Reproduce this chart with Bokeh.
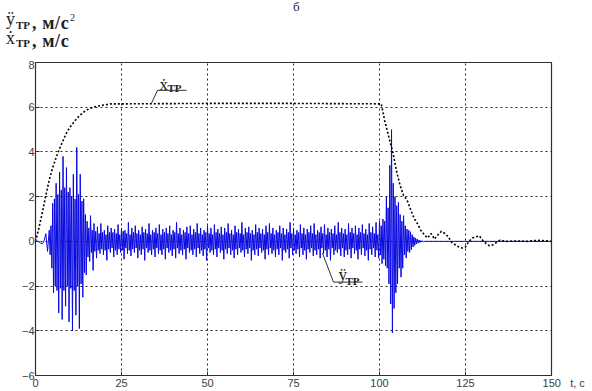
import numpy as np
from bokeh.plotting import figure
from bokeh.models import (ColumnDataSource, FixedTicker, Label, Arrow, Range1d, Div)
from bokeh.layouts import column
from bokeh.embed import file_html
from bokeh.resources import INLINE

# ---------------- data ----------------
x_ticks = [0, 25, 50, 75, 100, 125, 150]
y_ticks = [-6, -4, -2, 0, 2, 4, 6, 8]
x_title = "t, с"

# velocity x_TP (black dotted)
vel_t = [0, 1, 2, 3, 4, 5, 6, 7, 8, 9, 10, 11, 12, 13, 14, 15, 16, 18, 20, 22, 25, 50, 75,
         100.5, 101, 101.5, 102, 102.5, 103, 104, 105, 106, 107, 108, 109, 110, 111, 112,
         113, 114, 115, 116, 117, 118, 119, 120, 121, 122, 123, 124, 125, 126, 127, 128,
         129, 130, 131, 132, 133, 134, 135, 137, 140, 143, 146, 150]
vel_v = [0.0, 0.6, 1.3, 2.05, 2.75, 3.3, 3.75, 4.15, 4.5, 4.85, 5.1, 5.3, 5.5, 5.65, 5.78,
         5.88, 5.96, 6.05, 6.1, 6.15, 6.15, 6.17, 6.17,
         6.15, 5.8, 5.4, 5.1, 4.8, 4.5, 3.9, 3.1, 2.5, 2.05, 1.85, 1.45, 1.05, 0.8, 0.5,
         0.3, 0.15, 0.35, 0.1, 0.3, 0.45, 0.35, 0.2, -0.05, -0.15, -0.25, -0.3, -0.25, 0.0,
         0.15, 0.2, 0.25, 0.05, -0.1, -0.2, -0.15, -0.05, 0.05, 0.0, 0.02, 0.0, 0.05, 0.0]

# acceleration y_TP (blue) in segments (start, step, values)
acc_seg_a = [0.0, 0.01, -0.02, -0.08, -0.1, 0.02, 0.35, -0.45]          # t 0 .. 3.5, step 0.5
acc_seg_b = [                                                              # t 4 .. 17.75, step 0.25
    0.5, -0.6, 0.7, -1.2, 1.7, -2.3, 1.9, -2.0, 2.6, -2.2, 2.1, -3.2,
    3.1, -2.1, 2.3, -3.5, 3.8, -2.2, 2.4, -2.9, 3.3, -2.0, 2.2, -3.6,
    2.4, -2.1, 2.0, -4.0, 3.0, -2.2, 1.9, -3.3, 4.2, -2.0, 2.1, -3.9,
    3.0, -1.9, 1.8, -2.5, 1.9, -1.4, 1.2, -1.5, 0.9, -0.7, 0.6, -0.9,
    1.15, -0.5, 0.5, -1.3, 0.8, -0.45, 0.45, -0.75,
]
acc_seg_c = [                                                              # t 18 .. 99.75, step 0.25
    0.65, -0.4, 0.35, -0.55, 0.8, -0.35, 0.4, -0.6,
    0.5, -0.4, 0.3, -0.85, 0.7, -0.35, 0.4, -0.5,
    0.6, -0.3, 0.4, -0.7, 0.55, -0.4, 0.35, -0.6,
    0.75, -0.35, 0.3, -0.5, 0.6, -0.4, 0.45, -0.8,
    0.5, -0.3, 0.35, -0.55, 0.85, -0.4, 0.3, -0.65,
    0.6, -0.35, 0.4, -0.5, 0.7, -0.3, 0.35, -0.75,
    0.5, -0.4, 0.3, -0.6, 0.65, -0.35, 0.4, -0.85,
    0.55, -0.3, 0.35, -0.5, 0.8, -0.4, 0.3, -0.6,
    0.5, -0.35, 0.4, -0.7, 0.6, -0.3, 0.35, -0.55,
    0.75, -0.4, 0.3, -0.6, 0.55, -0.35, 0.4, -0.8,
    0.6, -0.3, 0.35, -0.5, 0.7, -0.4, 0.3, -0.65,
    0.5, -0.35, 0.4, -0.75, 0.85, -0.3, 0.35, -0.55,
    0.6, -0.4, 0.3, -0.6, 0.5, -0.35, 0.4, -0.8,
    0.65, -0.3, 0.35, -0.5, 0.7, -0.4, 0.3, -0.6,
    0.55, -0.35, 0.4, -0.7, 0.8, -0.3, 0.35, -0.55,
    0.6, -0.4, 0.3, -0.65, 0.5, -0.35, 0.4, -0.85,
    0.7, -0.3, 0.35, -0.5, 0.6, -0.4, 0.3, -0.6,
    0.75, -0.35, 0.4, -0.7, 0.55, -0.3, 0.35, -0.5,
    0.65, -0.4, 0.3, -0.8, 0.6, -0.35, 0.4, -0.55,
    0.8, -0.3, 0.35, -0.6, 0.5, -0.4, 0.3, -0.75,
    0.7, -0.35, 0.4, -0.6, 0.55, -0.3, 0.35, -0.5,
    0.85, -0.4, 0.3, -0.7, 0.6, -0.35, 0.4, -0.55,
    0.65, -0.3, 0.35, -0.85, 0.5, -0.4, 0.3, -0.6,
    0.75, -0.35, 0.4, -0.65, 0.6, -0.3, 0.35, -0.5,
    0.55, -0.4, 0.3, -0.8, 0.7, -0.35, 0.4, -0.6,
    0.8, -0.3, 0.35, -0.55, 0.6, -0.4, 0.3, -0.7,
    0.5, -0.35, 0.4, -0.6, 0.7, -0.3, 0.35, -0.85,
    0.6, -0.4, 0.3, -0.5, 0.55, -0.35, 0.4, -0.75,
    0.85, -0.3, 0.35, -0.6, 0.6, -0.4, 0.3, -0.55,
    0.5, -0.35, 0.4, -0.7, 0.75, -0.3, 0.35, -0.6,
    0.6, -0.4, 0.3, -0.8, 0.55, -0.35, 0.4, -0.5,
    0.7, -0.3, 0.35, -0.65, 0.8, -0.4, 0.3, -0.6,
    0.5, -0.35, 0.4, -0.75, 0.65, -0.3, 0.35, -0.55,
    0.75, -0.4, 0.3, -0.7, 0.6, -0.35, 0.4, -0.85,
    0.55, -0.3, 0.35, -0.6, 0.7, -0.4, 0.3, -0.5,
    0.85, -0.35, 0.4, -0.65, 0.6, -0.3, 0.35, -0.7,
    0.55, -0.4, 0.3, -0.6, 0.8, -0.35, 0.4, -0.75,
    0.6, -0.3, 0.35, -0.55, 0.7, -0.4, 0.3, -0.8,
    0.6, -0.35, 0.4, -0.6, 0.75, -0.3, 0.35, -0.65,
    0.55, -0.4, 0.3, -0.85, 0.8, -0.35, 0.4, -0.6,
    0.65, -0.3, 0.35, -0.7, 0.85, -0.4, 0.3, -0.75,
]
acc_seg_d = [                                                              # t 100 .. 112.75, step 0.25
    0.9, -0.6, 0.7, -1.0, 1.0, -0.8, 0.9, -1.1, 2.0, -1.2, 1.5, -1.9,
    3.4, -2.8, 5.0, -4.1, 2.6, -3.0, 2.0, -2.3, 1.6, -1.9, 1.75, -1.2,
    1.2, -1.6, 0.9, -1.2, 1.15, -0.6, 0.7, -0.75, 0.55, -0.45, 0.5, -0.5,
    0.43, -0.38, 0.3, -0.25, 0.2, -0.18, 0.15, -0.12, 0.1, -0.08, 0.06, -0.05,
    0.04, -0.03, 0.02, -0.01,
]
acc_tail_t = [113.0, 150.0]
acc_tail_v = [0.0, 0.0]

acc_segments = [(0.0, 0.5, acc_seg_a), (4.0, 0.25, acc_seg_b),
                (18.0, 0.25, acc_seg_c), (100.0, 0.25, acc_seg_d)]
acc_t, acc_all = [], []
for start, step, vals in acc_segments:
    acc_t += list(start + np.arange(len(vals)) * step)
    acc_all += vals
acc_t += acc_tail_t
acc_all += acc_tail_v

# ---------------- layout ----------------
W, H = 592, 391
HEAD = 60                                  # height of the heading strip above the figure
FR_L, FR_T, FR_R, FR_B = 35, 62, 551, 377  # expected frame, page pixels
X0, X1, Y0, Y1 = 0, 150, -6, 8

def dx(px):
    return X0 + (px - FR_L) / (FR_R - FR_L) * (X1 - X0)

def dy(py):
    return Y1 - (py - FR_T) / (FR_B - FR_T) * (Y1 - Y0)

p = figure(width=W, height=H - HEAD, output_backend="svg", toolbar_location=None,
           x_range=Range1d(X0, X1), y_range=Range1d(Y0, Y1),
           min_border_left=FR_L, min_border_right=W - FR_R,
           min_border_top=FR_T - HEAD, min_border_bottom=H - FR_B)
p.background_fill_color = "white"
p.border_fill_color = "white"
p.outline_line_color = "#303030"
p.outline_line_width = 1.2

tick_font = "Liberation Sans"
for ax in (p.xaxis[0], p.yaxis[0]):
    ax.major_label_text_font = tick_font
    ax.major_label_text_font_size = "11px"
    ax.major_label_text_color = "#404040"
    ax.major_tick_in = 4
    ax.major_tick_out = 0
    ax.minor_tick_line_color = None
    ax.axis_line_color = "#303030"
    ax.major_tick_line_color = "#303030"
    ax.major_label_standoff = 1
p.xaxis[0].ticker = FixedTicker(ticks=x_ticks)
p.yaxis[0].ticker = FixedTicker(ticks=y_ticks)
NB = "\u00a0"
p.xaxis[0].major_label_overrides = {150: NB * 8 + "150" + NB * 3 + x_title}

p.xgrid.ticker = FixedTicker(ticks=x_ticks)
p.ygrid.ticker = FixedTicker(ticks=y_ticks)
for g in (p.xgrid, p.ygrid):
    g.grid_line_color = "black"
    g.grid_line_dash = "2 3"
    g.grid_line_width = 1
    g.grid_line_alpha = 0.85

# ---------------- series ----------------
acc_src = ColumnDataSource(dict(t=acc_t, v=acc_all))
vel_src = ColumnDataSource(dict(t=vel_t, v=vel_v))
p.line("t", "v", source=acc_src, line_color="#0808e0", line_width=1)
p.line("t", "v", source=vel_src, line_color="black", line_width=1.6, line_dash="2 2")

# ---------------- in-frame annotations ----------------
serif = "Liberation Serif"

def lab(text, px, py, size, style="normal", color="#202020"):
    p.add_layout(Label(x=X0, y=Y1, x_offset=px - FR_L, y_offset=FR_T - py, text=text,
                       text_font=serif, text_font_size=f"{size}px", text_font_style=style,
                       text_color=color, text_baseline="alphabetic", text_align="left"))

lab("ẋ", 159, 84, 17)
lab("ТР", 167, 87, 11, "bold")
p.add_layout(Arrow(end=None, x_start=dx(157), y_start=dy(90), x_end=dx(186), y_end=dy(90),
                   line_color="#303030", line_width=1))
p.add_layout(Arrow(end=None, x_start=dx(157), y_start=dy(90), x_end=dx(151), y_end=dy(103),
                   line_color="#303030", line_width=1))

lab("ÿ", 338, 274, 17)
lab("ТР", 345, 280, 11, "bold")
p.add_layout(Arrow(end=None, x_start=dx(333), y_start=dy(283), x_end=dx(362), y_end=dy(283),
                   line_color="#303030", line_width=1))
p.add_layout(Arrow(end=None, x_start=dx(333), y_start=dy(283), x_end=dx(322), y_end=dy(254),
                   line_color="#303030", line_width=1))

# ---------------- heading strip (axis title and figure letter) ----------------
def span(text, left, baseline, size, weight="normal", extra=""):
    top = baseline - 0.84 * size
    return (f'<span style="position:absolute;left:{left}px;top:{top:.1f}px;'
            f'font-size:{size}px;line-height:1;font-weight:{weight};white-space:nowrap;{extra}">'
            f'{text}</span>')

head_html = (
    f'<div style="position:relative;width:{W}px;height:{HEAD}px;overflow:hidden;'
    f'font-family:\'Liberation Serif\',serif;color:#1e1e1e">'
    + span("б", 293, 11, 13)
    + span("ÿ", 6, 25, 18)
    + span("ТР", 16, 29, 11, "bold")
    + span(", м/с", 32, 29, 18, "bold", "letter-spacing:0.6px")
    + span("2", 70, 21, 10)
    + span("ẋ", 6, 44, 18)
    + span("ТР", 16, 47, 11, "bold")
    + span(", м/с", 32, 47, 18, "bold", "letter-spacing:0.6px")
    + '</div>'
)
head = Div(text=head_html, width=W, height=HEAD, margin=(0, 0, 0, 0))

layout = column(head, p, spacing=0)
open("out.html", "w").write(file_html(layout, INLINE))
